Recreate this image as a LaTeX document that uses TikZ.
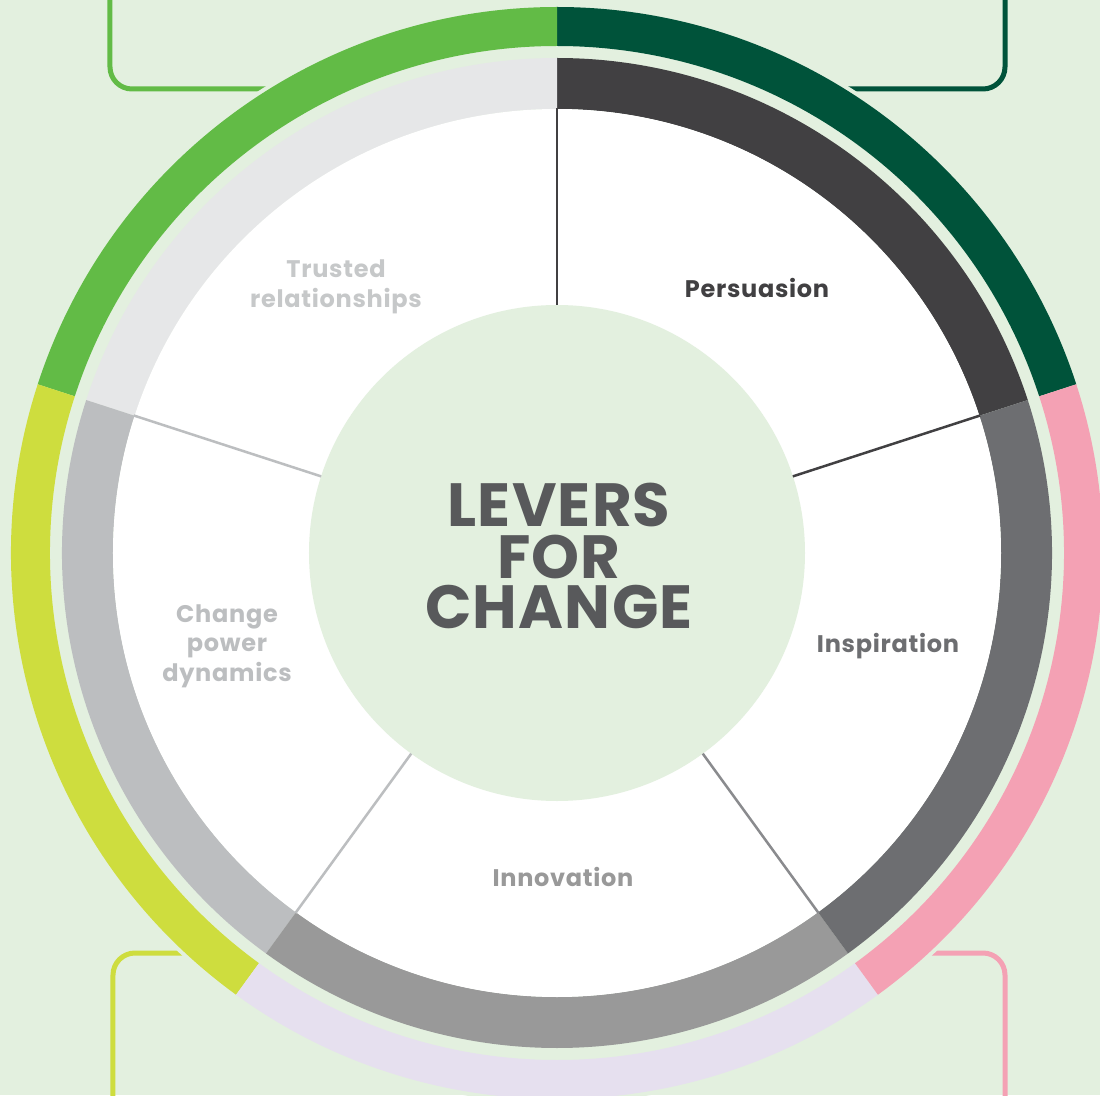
\documentclass[tikz,border=0pt]{standalone}
\usepackage{fontspec}
\setmainfont{Poppins}

\definecolor{bg}{HTML}{E3F0DF}
\definecolor{leafgreen}{HTML}{62BB46}
\definecolor{forest}{HTML}{00533A}
\definecolor{rose}{HTML}{F4A1B4}
\definecolor{lilac}{HTML}{E6E0EF}
\definecolor{lime}{HTML}{CEDD3E}
\definecolor{greyA}{HTML}{414042}
\definecolor{greyB}{HTML}{6D6E71}
\definecolor{greyC}{HTML}{999999}
\definecolor{greyD}{HTML}{BCBEC0}
\definecolor{greyE}{HTML}{E6E7E8}
\definecolor{titlegrey}{HTML}{58595B}

% annular sector: colour, start angle, end angle, inner radius, outer radius
\newcommand{\ringsector}[5]{%
  \fill[#1] (#2:#4pt) arc[start angle=#2, end angle=#3, radius=#4pt]
    -- (#3:#5pt) arc[start angle=#3, end angle=#2, radius=#5pt] -- cycle;}

\begin{document}
\begin{tikzpicture}[x=1pt, y=1pt,
    lbl/.style={font=\bfseries\fontsize{24}{29.5}\selectfont\addfontfeature{LetterSpace=3}, align=center},
    title/.style={font=\bfseries\fontsize{61}{51}\selectfont\addfontfeature{LetterSpace=2}, text=titlegrey, inner sep=0pt},
    frame/.style={line width=5pt, rounded corners=22pt},
    divider/.style={line width=2.5pt}]
    \clip (-557,-542) rectangle (543,553);
    \fill[bg] (-557,-542) rectangle (543,553);

    % corner frames, their inner ends run under the ring
    \draw[frame, leafgreen] (-447,580) -- (-447,464) -- (-250,464);
    \draw[frame, forest] (448,580) -- (448,464) -- (250,464);
    \draw[frame, lime] (-444,-580) -- (-444,-400) -- (-250,-400);
    \draw[frame, rose] (448,-580) -- (448,-400) -- (250,-400);

    \fill[bg] (0,0) circle[radius=550pt];

    % outer coloured ring
    \ringsector{forest}{18}{90}{507}{546}
    \ringsector{leafgreen}{90}{162}{507}{546}
    \ringsector{lime}{162}{234}{507}{546}
    \ringsector{lilac}{234}{306}{507}{546}
    \ringsector{rose}{-54}{18}{507}{546}

    % grey ring
    \ringsector{greyA}{18}{90}{444}{495}
    \ringsector{greyE}{90}{162}{444}{495}
    \ringsector{greyD}{162}{234}{444}{495}
    \ringsector{greyC}{234}{306}{444}{495}
    \ringsector{greyB}{-54}{18}{444}{495}

    \fill[white] (0,0) circle[radius=444pt];
    \node[circle, fill=bg, inner sep=0pt, outer sep=0pt, minimum size=496pt] (hub) at (0,0) {};

    \draw[divider, greyA] (hub.90) -- (90:445);
    \draw[divider, greyA] (hub.18) -- (18:445);
    \draw[divider, greyB!80] (hub.-54) -- (-54:445);
    \draw[divider, greyD] (hub.-126) -- (-126:445);
    \draw[divider, greyD] (hub.162) -- (162:445);

    \node[title] (levers) at (2,48) {LEVERS};
    \node[title] (for) at (2,-4) {FOR};
    \node[title] (change) at (2,-54) {CHANGE};

    \node[lbl, text=greyA] (persuasion) at (200,265) {Persuasion};
    \node[lbl, text=greyB] (inspiration) at (331,-93) {Inspiration};
    \node[lbl, text=greyC] (innovation) at (6,-324) {Innovation};
    \node[lbl, text=greyD] (powerdyn) at (-330,-93) {Change\\power\\dynamics};
    \node[lbl, text=greyD!85] (trusted) at (-221,266) {Trusted\\relationships};
\end{tikzpicture}
\end{document}
